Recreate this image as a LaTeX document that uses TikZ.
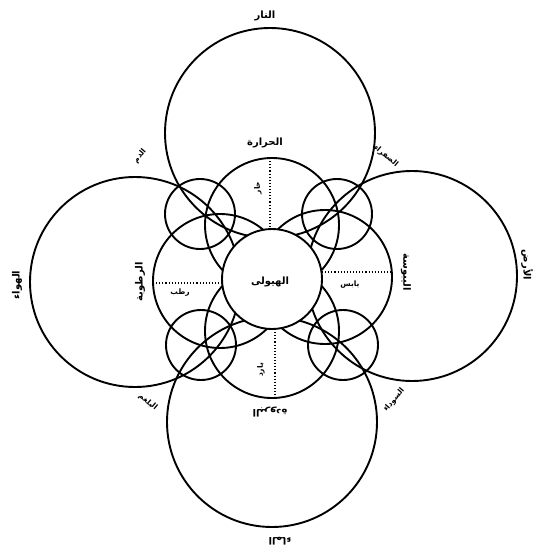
\documentclass[tikz,border=0pt]{standalone}
\usepackage{fontspec}
\newfontfamily\arabicfont[Script=Arabic]{DejaVu Sans}
\TeXXeTstate=1
\newcommand{\ar}[1]{{\arabicfont\bfseries\beginR #1\endR}}
\begin{document}
\begin{tikzpicture}[x=1pt,y=-1pt,
  ring/.style={draw=black,line width=1.9pt},
  dotline/.style={draw=black,line width=1.1pt,dotted},
  lbl/.style={font=\fontsize{10}{11}\selectfont,inner sep=0pt},
  slbl/.style={font=\fontsize{7.5}{8}\selectfont,inner sep=0pt}]
\useasboundingbox (0,0) rectangle (536,556);
\fill[white] (0,0) rectangle (536,556);
% centres
\coordinate (C) at (272,279);
\coordinate (T) at (270,133);
\coordinate (L) at (135,282);
\coordinate (R) at (412,276);
\coordinate (B) at (272,422);
\coordinate (mT) at (272,225);
\coordinate (mB) at (272,331);
\coordinate (mL) at (220,281);
\coordinate (mR) at (325,277);
\coordinate (sTL) at (200,214);
\coordinate (sTR) at (337,214);
\coordinate (sBL) at (201,345);
\coordinate (sBR) at (343,345);
% big circles
\draw[ring] (T) circle (105);
\draw[ring] (L) circle (105);
\draw[ring] (R) circle (105);
\draw[ring] (B) circle (105);
% middle circles
\draw[ring] (mT) circle (67);
\draw[ring] (mB) circle (67);
\draw[ring] (mL) circle (67);
\draw[ring] (mR) circle (67);
% small circles
\draw[ring] (sTL) circle (35);
\draw[ring] (sTR) circle (35);
\draw[ring] (sBL) circle (35);
\draw[ring] (sBR) circle (35);
% centre circle
\draw[ring,fill=white] (C) circle (50);
% dotted radii
\coordinate (dT1) at (270,158); \coordinate (dT2) at (270,229);
\coordinate (dB1) at (275,329); \coordinate (dB2) at (275,398);
\coordinate (dL1) at (153,283); \coordinate (dL2) at (222,283);
\coordinate (dR1) at (322,272); \coordinate (dR2) at (392,272);
\draw[dotline] (dT1) -- (dT2);
\draw[dotline] (dB1) -- (dB2);
\draw[dotline] (dL1) -- (dL2);
\draw[dotline] (dR1) -- (dR2);
% labels
\node[lbl] (tT) at (265,16) {\ar{النار}};
\node[lbl,rotate=180] (tB) at (280,541) {\ar{الماء}};
\node[lbl,rotate=90] (tL) at (17,285) {\ar{الهواء}};
\node[lbl,rotate=-90] (tR) at (527,265) {\ar{الأرض}};
\node[lbl] (qT) at (265,143) {\ar{الحرارة}};
\node[lbl,rotate=180] (qB) at (270,412) {\ar{البرودة}};
\node[lbl,rotate=90] (qL) at (140,282) {\ar{الرطوبة}};
\node[lbl,rotate=-90] (qR) at (406,272) {\ar{اليبوسة}};
\node[lbl] (cen) at (270,282) {\ar{الهيولى}};
\node[slbl,rotate=90] (dTt) at (258,188) {\ar{حار}};
\node[slbl,rotate=90] (dBt) at (261,370) {\ar{بارد}};
\node[slbl] (dLt) at (180,293) {\ar{رطب}};
\node[slbl] (dRt) at (350,285) {\ar{يابس}};
\node[slbl,rotate=50] (hTL) at (140,156) {\ar{الدم}};
\node[slbl,rotate=-40] (hTR) at (386,156) {\ar{الصفراء}};
\node[slbl,rotate=-40] (hBL) at (148,402) {\ar{البلغم}};
\node[slbl,rotate=50] (hBR) at (394,400) {\ar{السوداء}};
\end{tikzpicture}
\end{document}
